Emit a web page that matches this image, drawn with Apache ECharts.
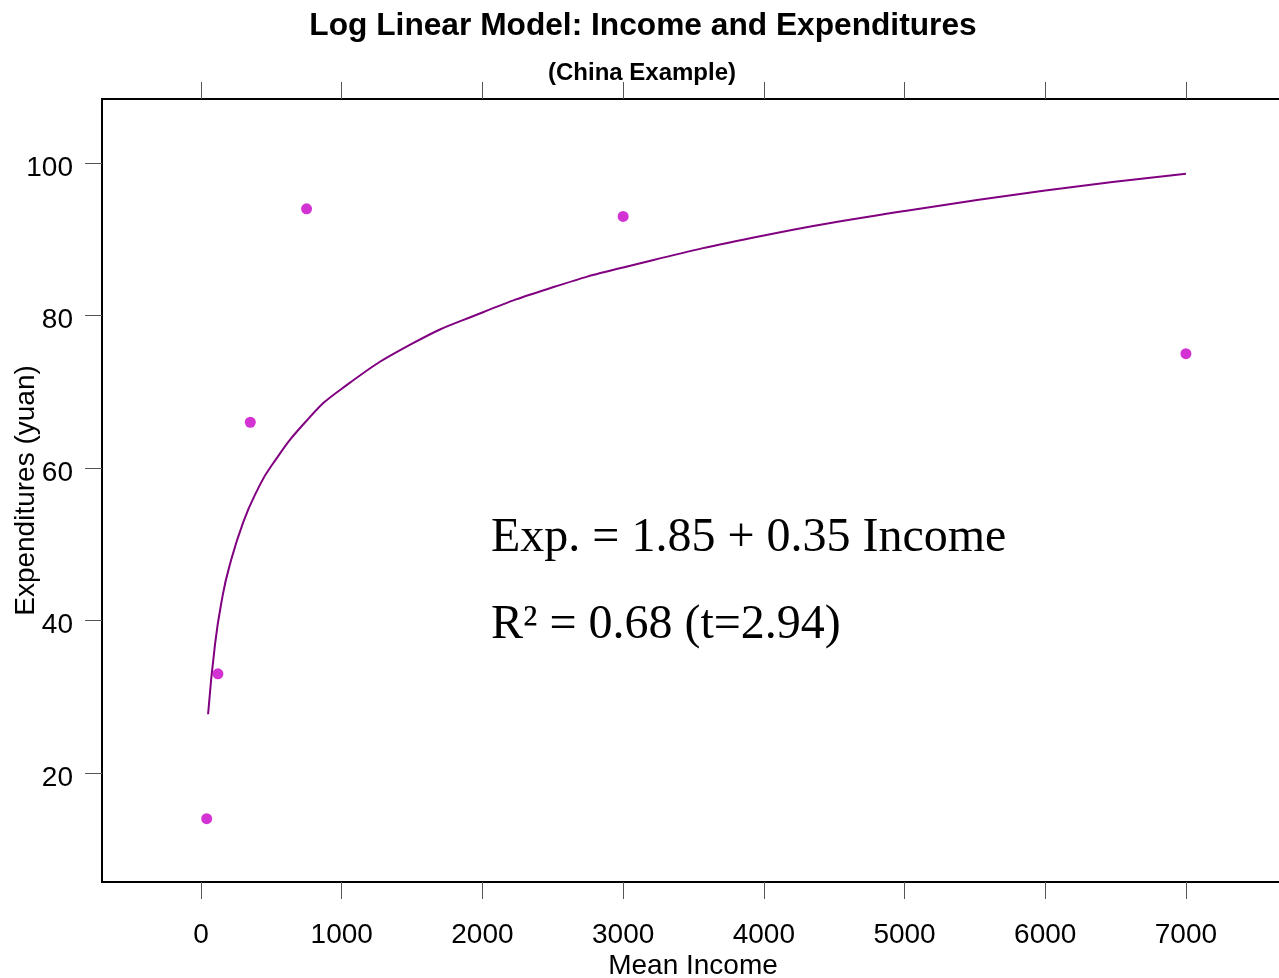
<!DOCTYPE html>
<html>
<head>
<meta charset="utf-8">
<script src="https://cdn.jsdelivr.net/npm/echarts@6/dist/echarts.min.js"></script>
<style>
html,body{margin:0;padding:0;background:#fff;}
#chart{width:1279px;height:978px;}
</style>
</head>
<body>
<div id="chart"></div>
<script>
// Observed data points (Mean Income, Expenditures)
const pointIncome = [40, 120, 350, 750, 3000, 7000];
const pointExp    = [14, 33, 66, 94, 93, 75];
// Fitted curve
const curveIncome = [50, 100, 150, 200, 300, 400, 500, 750, 1000, 1500, 2000, 2500, 3000, 4000, 5000, 6000, 7000];
const curveExp    = [27.7, 37.0, 42.9, 47.0, 52.9, 57.1, 60.3, 66.2, 70.4, 76.3, 80.4, 83.7, 86.3, 90.5, 93.7, 96.4, 98.6];
// Tick labels
const xTicks = [0, 1000, 2000, 3000, 4000, 5000, 6000, 7000];
const yTicks = [20, 40, 60, 80, 100];

const FONT = 'Liberation Sans, Arial, sans-serif';
const chart = echarts.init(document.getElementById('chart'), null, {renderer: 'canvas'});
const tickStyle = {show: true, inside: false, length: 17, lineStyle: {color: '#555', width: 1}};
const option = {
  backgroundColor: '#fff',
  animation: false,
  title: [
    {text: 'Log Linear Model: Income and Expenditures', left: 638, top: 5, textAlign: 'center',
     textStyle: {fontFamily: FONT, fontWeight: 'bold', fontSize: 31.7, color: '#000'}},
    {text: '(China Example)', left: 637, top: 56, textAlign: 'center',
     textStyle: {fontFamily: FONT, fontWeight: 'bold', fontSize: 24, color: '#000'}}
  ],
  grid: {left: 102, top: 99, right: -5, bottom: 96, outerBoundsMode: 'none', containLabel: false,
         show: true, borderColor: '#000', borderWidth: 2, backgroundColor: '#fff'},
  xAxis: [
    {type: 'value', position: 'bottom', min: -704, max: 7697,
     name: 'Mean Income', nameLocation: 'middle', nameGap: 70, nameMoveOverlap: false,
     nameTextStyle: {fontFamily: FONT, fontSize: 28, color: '#000'},
     axisLine: {show: false, onZero: false}, splitLine: {show: false},
     axisTick: Object.assign({customValues: xTicks}, tickStyle),
     axisLabel: {customValues: xTicks, formatter: v => String(v), margin: 39, fontFamily: FONT, fontSize: 28, color: '#000'}},
    {type: 'value', position: 'top', min: -704, max: 7697,
     axisLine: {show: false, onZero: false}, splitLine: {show: false},
     axisTick: Object.assign({customValues: xTicks}, tickStyle),
     axisLabel: {show: false}}
  ],
  yAxis: {type: 'value', min: 5.7, max: 108.4,
    name: 'Expenditures (yuan)', nameLocation: 'middle', nameGap: 62, nameMoveOverlap: false,
    nameTextStyle: {fontFamily: FONT, fontSize: 28, color: '#000'},
    axisLine: {show: false, onZero: false}, splitLine: {show: false},
    axisTick: Object.assign({customValues: yTicks}, tickStyle),
    axisLabel: {customValues: yTicks, formatter: v => String(v), margin: 29, verticalAlign: 'top', lineHeight: 10,
                fontFamily: FONT, fontSize: 28, color: '#000'}},
  graphic: [
    {type: 'text', left: 491, top: 514, style: {text: 'Exp. = 1.85 + 0.35 Income', font: '48px "Liberation Serif", "Times New Roman", serif', fill: '#000'}},
    {type: 'text', left: 491, top: 601, style: {text: 'R\u00B2 = 0.68 (t=2.94)', font: '48px "Liberation Serif", "Times New Roman", serif', fill: '#000'}}
  ],
  series: [
    {type: 'line', data: curveIncome.map((x, i) => [x, curveExp[i]]), smooth: true, showSymbol: false,
     lineStyle: {color: '#800080', width: 2}, z: 2},
    {type: 'scatter', data: pointIncome.map((x, i) => [x, pointExp[i]]), symbol: 'circle', symbolSize: 11,
     itemStyle: {color: '#C800C8'}, z: 3}
  ]
};
chart.setOption(option);
</script>
</body>
</html>
